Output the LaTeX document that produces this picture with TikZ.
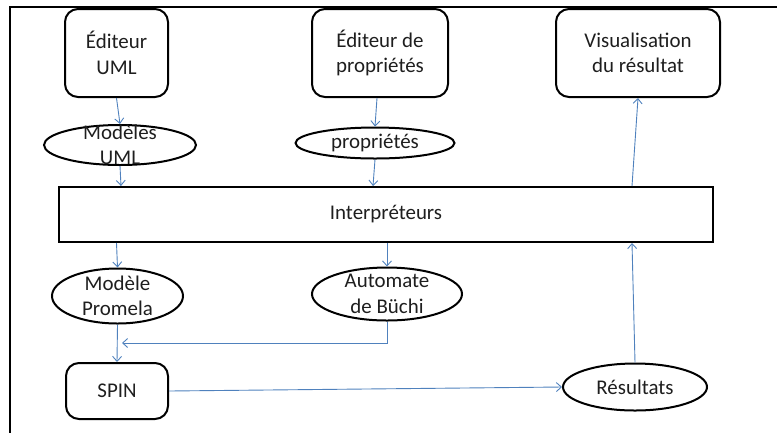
\documentclass[tikz,border=0pt]{standalone}
\usepackage{fontspec}
\setmainfont{Carlito}
\usetikzlibrary{shapes.geometric,arrows.meta}
\definecolor{arrowblue}{RGB}{79,129,189}
\definecolor{txt}{RGB}{30,30,30}
\tikzset{
  every node/.style={font=\fontsize{21}{25.5}\selectfont, text=txt, align=center},
  rbox/.style={draw=black, line width=2bp, rounded corners=13bp, inner sep=0pt},
  oval/.style={draw=black, line width=2bp, ellipse, inner sep=0pt},
  flow/.style={draw=arrowblue, line width=0.9bp, -{Straight Barb[length=5bp,width=9bp]}},
  flowplain/.style={draw=arrowblue, line width=0.9bp},
  ovallabel/.style={label={[align=center,font=\fontsize{21}{25.5}\selectfont,text=txt]center:#1}}
}
\begin{document}
\begin{tikzpicture}[x=1bp,y=-1bp]
\useasboundingbox (0,0) rectangle (777,432);
\clip (0,0) rectangle (777,432);
\draw[line width=2.5bp] (10,7) rectangle (790,445);

\node[rbox, minimum width=103bp, minimum height=88bp] (eu) at (116.5,53) {Éditeur\\UML};
\node[rbox, minimum width=136bp, minimum height=88bp] (ep) at (380,53) {Éditeur de\\propriétés};
\node[rbox, minimum width=164bp, minimum height=88bp] (vis) at (638,53) {Visualisation\\du résultat};

\node[oval, minimum width=152bp, minimum height=40bp, ovallabel={Modèles\\UML}] (mu) at (120,145) {};
\node[oval, minimum width=159bp, minimum height=31bp] (prop) at (375,143) {propriétés};

\node[draw=black, line width=2bp, minimum width=654bp, minimum height=55bp, inner sep=0pt] (interp) at (386,214.5) {Interpréteurs};

\node[oval, minimum width=131bp, minimum height=55bp, ovallabel={Modèle\\Promela}] (mp) at (117.5,296) {};
\node[oval, minimum width=150bp, minimum height=53bp, ovallabel={Automate\\de Büchi}] (ab) at (387,294) {};

\node[rbox, minimum width=102bp, minimum height=56bp] (spin) at (117,391) {SPIN};
\node[oval, minimum width=144bp, minimum height=47bp] (res) at (635,387) {Résultats};

\coordinate (join) at (122,343);

\draw[flow] (eu.south) -- (mu.north);
\draw[flow] (mu.south) -- ([xshift=1bp]mu.south |- interp.north);
\draw[flow] ([xshift=-3bp]ep.south) -- (prop.north);
\draw[flow] (prop.south) -- ([xshift=-2bp]prop.south |- interp.north);
\draw[flow] ([xshift=-3bp]res.north |- interp.north) -- (vis.south);
\draw[flow] ([xshift=-1bp]mp.north |- interp.south) -- (mp.north);
\draw[flow] (ab.north |- interp.south) -- (ab.north);
\draw[flow] (mp.south) -- (spin.north);
\draw[flow] (ab.south) |- (join);
\draw[flow] (spin.east) -- (res.west);
\draw[flow] (res.north) -- ([xshift=-3bp]res.north |- interp.south);
\end{tikzpicture}
\end{document}
